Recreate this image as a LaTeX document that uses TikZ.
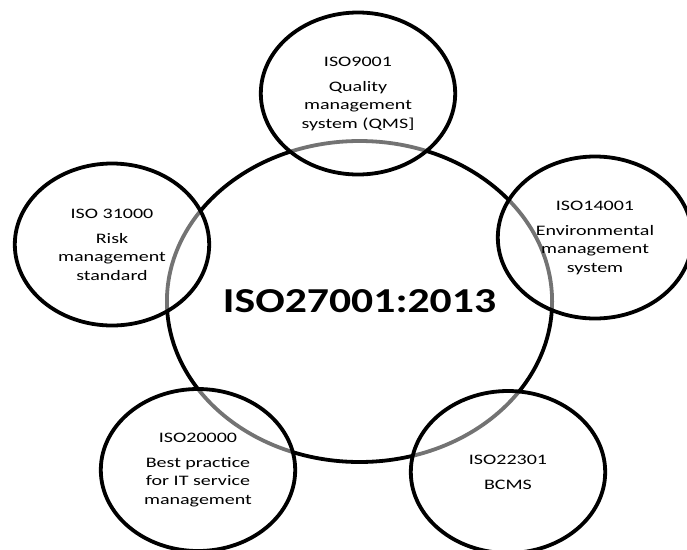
\documentclass[tikz,border=0pt]{standalone}
\usepackage{fontspec}
\setmainfont{Carlito}
\newfontfamily\memberfont{Carlito}[FakeStretch=1.15]
\newfontfamily\corefont{Carlito}[FakeStretch=1.04]
\usetikzlibrary{shapes.geometric}
\tikzset{
  core/.style={ellipse, draw=black, line width=3.8pt, inner sep=0pt, minimum width=321pt, minimum height=321pt, xscale=1.2, align=center, font=\corefont\bfseries\fontsize{35}{40}\selectfont},
  member/.style={ellipse, draw=black, line width=3.8pt, fill=white, fill opacity=0.45, text opacity=1, minimum width=162pt, minimum height=162pt, xscale=1.2, align=center, font=\memberfont\fontsize{14.5}{18.5}\selectfont},
}

\begin{document}
\begin{tikzpicture}[x=1pt, y=-1pt]
  \useasboundingbox (0,0) rectangle (687,549);

  % ---- Core standard ----
  \node (iso27001) [core] at (359.5,301.5) {\makebox[0pt]{ISO27001:2013}};

  % ---- Related standards ----
  \node (iso9001) [member] at (358,93.5) {ISO9001\\[6.5pt]Quality\\management\\system (QMS]};
  \node (iso31000) [member] at (112,244.5) {ISO 31000\\[6.5pt]Risk\\management\\standard};
  \node (iso14001) [member] at (595,237.5) {ISO14001\\[6.5pt]Environmental\\management\\system};
  \node (iso20000) [member] at (198,470) {ISO20000\\[6.5pt]Best practice\\for IT service\\management};
  \node (iso22301) [member] at (508,472) {ISO22301\\[6.5pt]BCMS};

\end{tikzpicture}
\end{document}
